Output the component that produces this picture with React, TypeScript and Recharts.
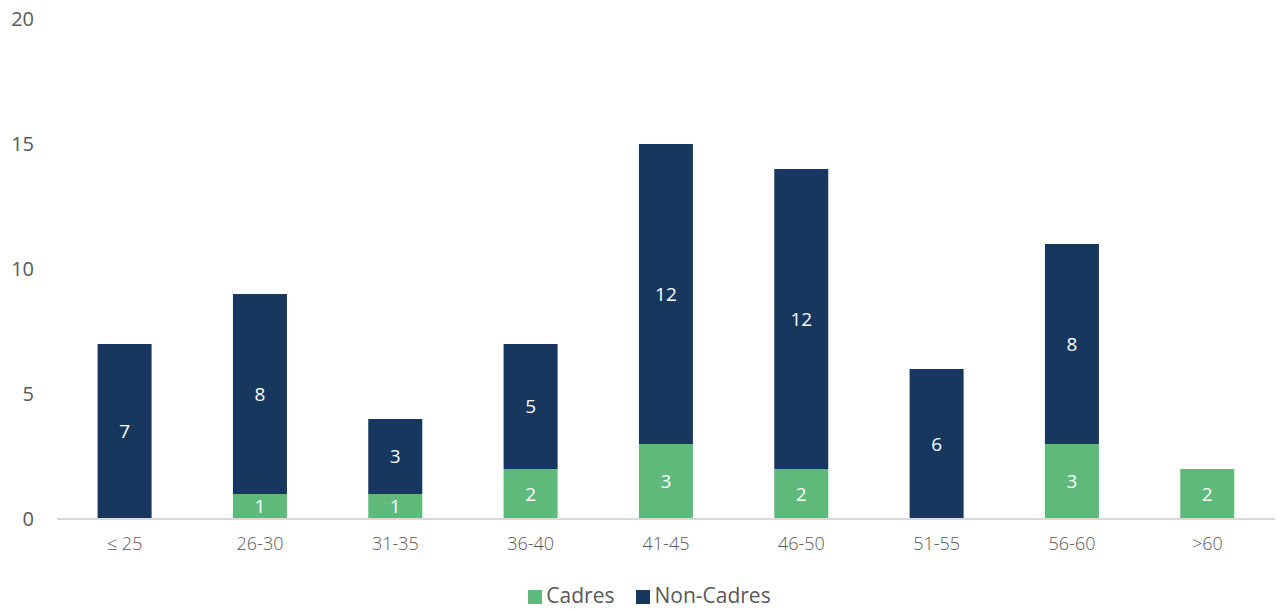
import React from "react";
import { BarChart, Bar, XAxis, YAxis, Legend, LabelList } from "recharts";

const categories = ["≤ 25", "26-30", "31-35", "36-40", "41-45", "46-50", "51-55", "56-60", ">60"];
const cadres = [0, 1, 1, 2, 3, 2, 0, 3, 2];
const nonCadres = [7, 8, 3, 5, 12, 12, 6, 8, 0];
const yTicks = [0, 5, 10, 15, 20];

const data = categories.map((c, i) => ({ cat: c, Cadres: cadres[i], "Non-Cadres": nonCadres[i] }));

const GREEN = "#5EB97B";
const NAVY = "#17375E";
const TEXT = "#595959";

const hideZero = (v: any) => (v ? v : "");

export default function App() {
  return (
    <div style={{ width: 1279, height: 612 }}>
      <style>{"body{margin:0}"}</style>
      <BarChart
        width={1279}
        height={612}
        data={data}
        margin={{ top: 19, right: 4, bottom: 3, left: 0 }}
        barCategoryGap="30%"
      >
        <YAxis
          width={57}
          domain={[0, 20]}
          ticks={yTicks}
          axisLine={false}
          tickLine={false}
          tickSize={0}
          tickMargin={23}
          tick={{ fill: TEXT, fontSize: 20, fontFamily: "Open Sans" }}
        />
        <XAxis
          dataKey="cat"
          height={62}
          axisLine={{ stroke: "#D9D9D9", strokeWidth: 2 }}
          tickLine={false}
          tickSize={0}
          tickMargin={18}
          tick={{ fill: TEXT, fontSize: 18, fontFamily: "Open Sans", fontWeight: 300 }}
        />
        <Legend
          verticalAlign="bottom"
          iconType="square"
          iconSize={14}
          wrapperStyle={{ fontFamily: "Open Sans", fontSize: 21, paddingLeft: 46, boxSizing: "border-box" }}
          formatter={(value: any) => <span style={{ color: TEXT, marginRight: 12 }}>{value}</span>}
        />
        <Bar dataKey="Cadres" stackId="a" fill={GREEN} isAnimationActive={false}>
          <LabelList dataKey="Cadres" position="center" fill="#FFFFFF" fontSize={19} fontFamily="Open Sans" formatter={hideZero} />
        </Bar>
        <Bar dataKey="Non-Cadres" stackId="a" fill={NAVY} isAnimationActive={false}>
          <LabelList dataKey="Non-Cadres" position="center" fill="#FFFFFF" fontSize={19} fontFamily="Open Sans" formatter={hideZero} />
        </Bar>
      </BarChart>
    </div>
  );
}
